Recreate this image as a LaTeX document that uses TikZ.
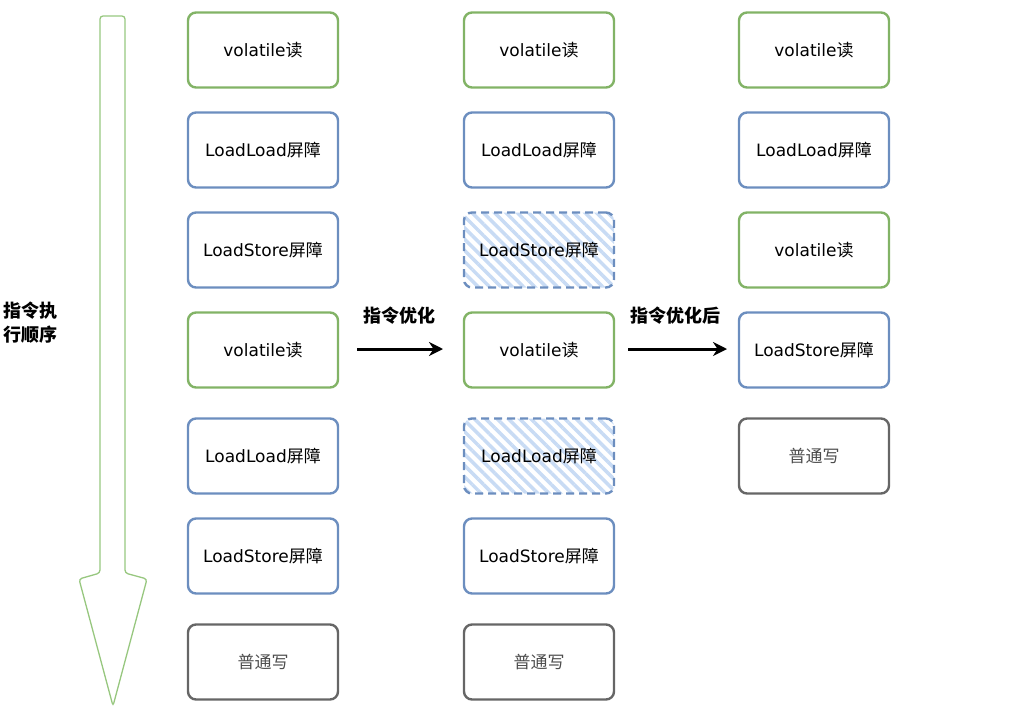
\documentclass[tikz,border=0pt]{standalone}
\usepackage{fontspec}
\setmainfont{DejaVu Sans}
\newfontfamily\cjk{Noto Sans CJK SC}
\usetikzlibrary{patterns.meta,arrows.meta}
\definecolor{gr}{HTML}{82B366}
\definecolor{bl}{HTML}{6C8EBF}
\definecolor{gy}{HTML}{666666}
\definecolor{hatchc}{HTML}{C8DBF4}
\definecolor{arrgreen}{HTML}{97C77F}
\tikzset{
  box/.style={draw, line width=2.4pt, rounded corners=8pt, minimum width=150pt,
    minimum height=75pt, inner sep=0pt, font=\fontsize{17}{19}\selectfont, text=black},
  rd/.style={box, draw=gr},
  bar/.style={box, draw=bl},
  wr/.style={box, draw=gy, text=black!70},
  gone/.style={bar, dash pattern=on 8pt off 5pt,
    pattern={Lines[angle=-45,distance=8pt,line width=3.5pt]}, pattern color=hatchc},
  lbl/.style={font={\cjk\bfseries\fontsize{18}{24}\selectfont}, text=black, inner sep=0pt},
  flow/.style={line width=3pt, -{Stealth[length=14pt,width=14pt]}}
}
\begin{document}
\begin{tikzpicture}[x=1pt,y=-1pt]
\useasboundingbox (0,0) rectangle (1011,725);
% execution order arrow
\draw[arrgreen, line width=1.3pt, rounded corners=3pt]
  (100,16) -- (125,16) -- (125,573) -- (147,579) -- (113,706) -- (79,579) -- (100,573) -- cycle;
\node[lbl, align=left, anchor=west] (order) at (3,323) {指令执\\行顺序};
% column 1
\node[rd]  (a1) at (263,50)  {volatile{\cjk 读}};
\node[bar] (a2) at (263,150) {LoadLoad{\cjk 屏障}};
\node[bar] (a3) at (263,250) {LoadStore{\cjk 屏障}};
\node[rd]  (a4) at (263,350) {volatile{\cjk 读}};
\node[bar] (a5) at (263,456) {LoadLoad{\cjk 屏障}};
\node[bar] (a6) at (263,556) {LoadStore{\cjk 屏障}};
\node[wr]  (a7) at (263,662) {{\cjk 普通写}};
% column 2
\node[rd]   (b1) at (539,50)  {volatile{\cjk 读}};
\node[bar]  (b2) at (539,150) {LoadLoad{\cjk 屏障}};
\node[gone] (b3) at (539,250) {LoadStore{\cjk 屏障}};
\node[rd]   (b4) at (539,350) {volatile{\cjk 读}};
\node[gone] (b5) at (539,456) {LoadLoad{\cjk 屏障}};
\node[bar]  (b6) at (539,556) {LoadStore{\cjk 屏障}};
\node[wr]   (b7) at (539,662) {{\cjk 普通写}};
% column 3
\node[rd]  (c1) at (814,50)  {volatile{\cjk 读}};
\node[bar] (c2) at (814,150) {LoadLoad{\cjk 屏障}};
\node[rd]  (c3) at (814,250) {volatile{\cjk 读}};
\node[bar] (c4) at (814,350) {LoadStore{\cjk 屏障}};
\node[wr]  (c5) at (814,456) {{\cjk 普通写}};
% transformation arrows
\coordinate (p1) at (357,349);
\coordinate (q1) at (443,349);
\coordinate (p2) at (628,349);
\coordinate (q2) at (727,349);
\draw[flow] (p1) -- (q1);
\draw[flow] (p2) -- (q2);
\node[lbl] (t1) at (399,316) {指令优化};
\node[lbl] (t2) at (675,316) {指令优化后};
\end{tikzpicture}
\end{document}
